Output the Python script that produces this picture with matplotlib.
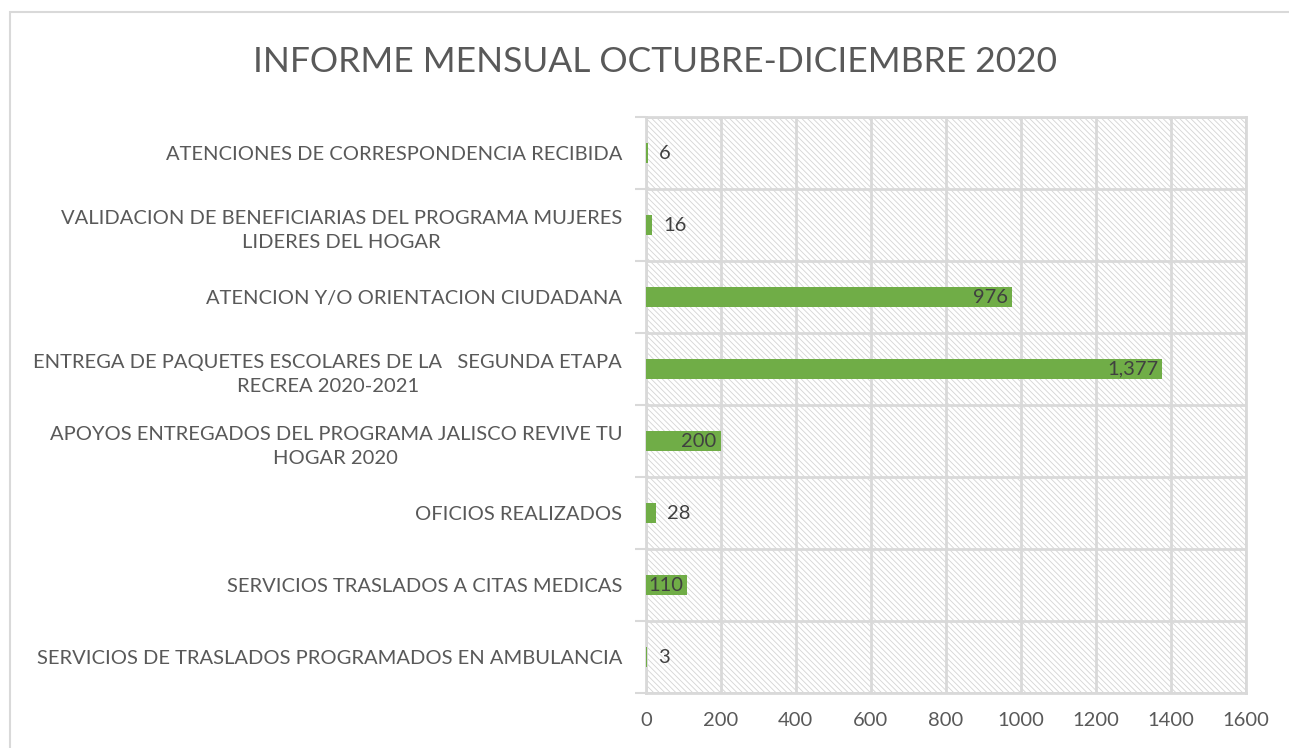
import matplotlib.pyplot as plt
from matplotlib.patches import Rectangle

categorias = [
    "ATENCIONES DE CORRESPONDENCIA RECIBIDA",
    "VALIDACION DE BENEFICIARIAS DEL PROGRAMA MUJERES\nLIDERES DEL HOGAR",
    "ATENCION Y/O ORIENTACION CIUDADANA",
    "ENTREGA DE PAQUETES ESCOLARES DE LA   SEGUNDA ETAPA\nRECREA 2020-2021",
    "APOYOS ENTREGADOS DEL PROGRAMA JALISCO REVIVE TU\nHOGAR 2020",
    "OFICIOS REALIZADOS",
    "SERVICIOS TRASLADOS A CITAS MEDICAS",
    "SERVICIOS DE TRASLADOS PROGRAMADOS EN AMBULANCIA",
]
valores = [6, 16, 976, 1377, 200, 28, 110, 3]
etiquetas = ["6", "16", "976", "1,377", "200", "28", "110", "3"]
xticks = [0, 200, 400, 600, 800, 1000, 1200, 1400, 1600]

gris = "#595959"
linea = "#d9d9d9"
verde = "#70AD47"

plt.rcParams['font.family'] = ['Lato', 'DejaVu Sans']
plt.rcParams['hatch.linewidth'] = 0.6

fig = plt.figure(figsize=(12.89, 7.48), dpi=100)
ax = fig.add_axes([0.501, 0.0735, 0.4655, 0.770])

# marco del grafico
fig.add_artist(Rectangle((10 / 1289, -0.05), 1.2, 1 - 12 / 748 + 0.05,
                         transform=fig.transFigure, fill=False,
                         edgecolor=linea, lw=1.5))

# fondo rayado
ax.add_patch(Rectangle((0, 0), 1, 1, transform=ax.transAxes, facecolor="white",
                       edgecolor="#d4d4d4", hatch="\\" * 6, lw=0, zorder=0))

y = list(range(len(categorias)))
ax.barh(y, valores, height=0.28, color=verde, zorder=3, left=0)

for i, (v, lab) in enumerate(zip(valores, etiquetas)):
    if v >= 100:
        ax.annotate(lab, (v, i), xytext=(-3, 0), textcoords="offset points",
                    ha="right", va="center", fontsize=14.5, color="#404040", zorder=4)
    else:
        ax.annotate(lab, (v, i), xytext=(8, 0), textcoords="offset points",
                    ha="left", va="center", fontsize=14.5, color="#404040", zorder=4)

ax.set_xlim(0, 1600)
ax.set_ylim(len(categorias) - 0.5, -0.5)
ax.set_xticks(xticks)
ax.set_xticklabels([str(t) for t in xticks])
ax.set_yticks(y)
ax.set_yticklabels(categorias, multialignment="center", linespacing=1.55)
ax.set_yticks([i - 0.5 for i in range(len(categorias) + 1)], minor=True)

ax.tick_params(axis="x", length=0, pad=14, labelsize=14.5, labelcolor=gris)
ax.tick_params(axis="y", which="major", length=0, pad=17, labelsize=14.5, labelcolor=gris)
ax.tick_params(axis="y", which="minor", length=8, width=1.5, color=linea)

ax.set_axisbelow(True)
ax.grid(axis="x", which="major", color=linea, lw=2)
ax.grid(axis="y", which="minor", color=linea, lw=2)
for s in ax.spines.values():
    s.set_color(linea)
    s.set_linewidth(2)
    s.set_zorder(2)

fig.text(0.508, 0.917, "INFORME MENSUAL OCTUBRE-DICIEMBRE 2020", ha="center",
         va="center", fontsize=25.5, color=gris)

fig.savefig("out.png", dpi=100)
